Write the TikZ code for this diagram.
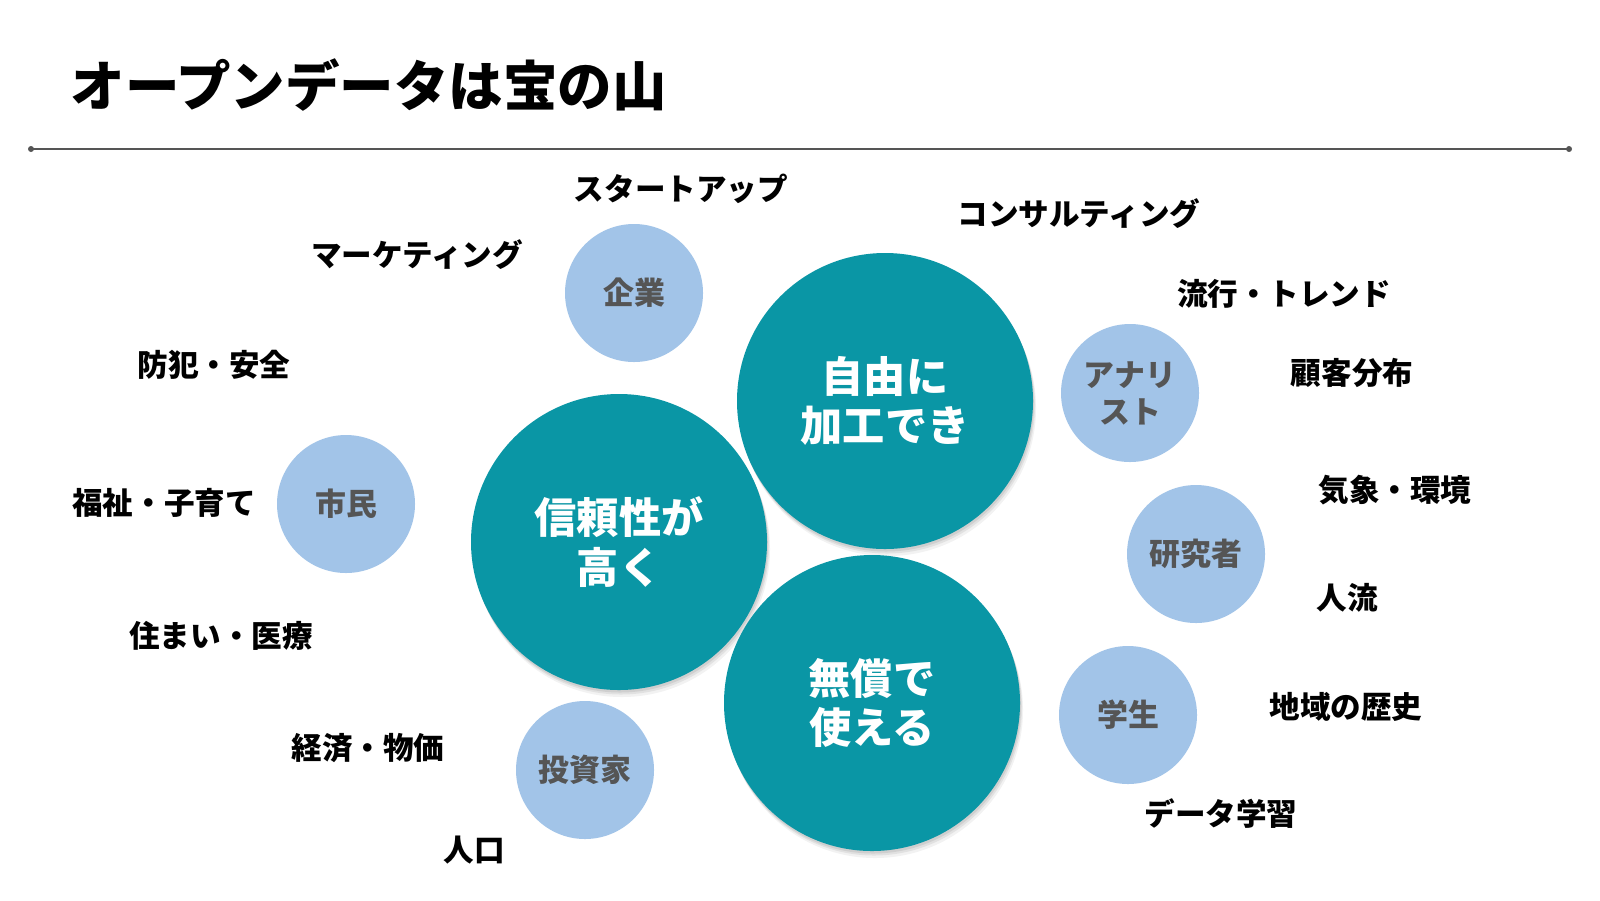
\documentclass[tikz,border=0pt]{standalone}
\usepackage{fontspec}
\setmainfont{Noto Sans CJK JP}
\usetikzlibrary{shadows}
\definecolor{teal0}{RGB}{10,150,165}
\definecolor{sky0}{RGB}{162,196,232}
\definecolor{ink0}{RGB}{85,85,85}
\tikzset{
  bigbub/.style={circle, fill=teal0, minimum size=2.96cm, inner sep=0pt, align=center,
    text=white, font=\bfseries\fontsize{12}{14}\selectfont,
    drop shadow={opacity=0.10, shadow xshift=0.03, shadow yshift=-0.07},
    drop shadow={opacity=0.14, shadow xshift=0.02, shadow yshift=-0.045},
    drop shadow={opacity=0.18, shadow xshift=0.01, shadow yshift=-0.025}},
  smallbub/.style={circle, fill=sky0, minimum size=1.38cm, inner sep=0pt, align=center,
    text=ink0, font=\bfseries\fontsize{8.8}{10.5}\selectfont},
  kw/.style={font=\bfseries\fontsize{8.7}{10}\selectfont, inner sep=0pt}
}
\begin{document}
\begin{tikzpicture}[line join=round, line cap=round]
\useasboundingbox (0,0) rectangle (16,-9);
\fill[white] (0,0) rectangle (16,-9);
% title and rule
\node[anchor=west, inner sep=0pt, font=\bfseries\fontsize{15.5}{18}\selectfont] (title) at (0.70,-0.85) {オープンデータは宝の山};
\coordinate (ruleL) at (0.31,-1.49);
\coordinate (ruleR) at (15.69,-1.49);
\draw[ink0, line width=0.6pt] (ruleL) -- (ruleR);
\fill[ink0] (ruleL) circle (0.03) (ruleR) circle (0.03);
% three big bubbles
\node[bigbub] (free) at (8.85,-4.01) {自由に\\加工でき};
\node[bigbub] (trust) at (6.19,-5.42) {信頼性が\\高く};
\node[bigbub] (gratis) at (8.72,-7.03) {無償で\\使える};
% users
\node[smallbub] (corp) at (6.34,-2.93) {企業};
\node[smallbub] (citizen) at (3.46,-5.04) {市民};
\node[smallbub] (investor) at (5.85,-7.70) {投資家};
\node[smallbub] (analyst) at (11.30,-3.93) {アナリ\\スト};
\node[smallbub] (research) at (11.96,-5.54) {研究者};
\node[smallbub] (student) at (11.28,-7.15) {学生};
% keywords
\node[kw] (startup) at (6.81,-1.89) {スタートアップ};
\node[kw] (marketing) at (4.17,-2.55) {マーケティング};
\node[kw] (consult) at (10.79,-2.14) {コンサルティング};
\node[kw] (trend) at (12.84,-2.94) {流行・トレンド};
\node[kw] (customer) at (13.52,-3.73) {顧客分布};
\node[kw] (safety) at (2.14,-3.65) {防犯・安全};
\node[kw] (welfare) at (1.64,-5.03) {福祉・子育て};
\node[kw] (housing) at (2.21,-6.36) {住まい・医療};
\node[kw] (weather) at (13.95,-4.90) {気象・環境};
\node[kw] (flow) at (13.47,-5.98) {人流};
\node[kw] (history) at (13.46,-7.07) {地域の歴史};
\node[kw] (economy) at (3.68,-7.48) {経済・物価};
\node[kw] (learning) at (12.21,-8.14) {データ学習};
\node[kw] (population) at (4.74,-8.50) {人口};
\end{tikzpicture}
\end{document}
